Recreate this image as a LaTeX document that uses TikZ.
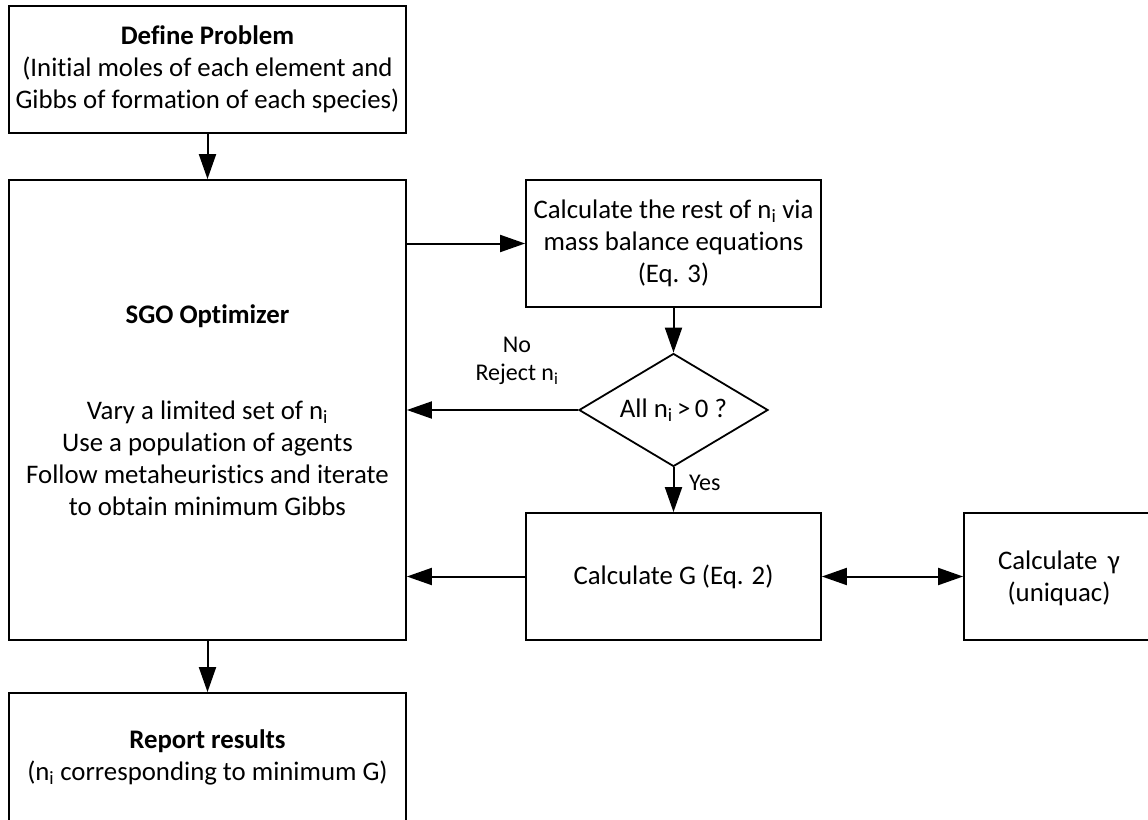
\documentclass[tikz,border=0pt]{standalone}
\usepackage{fontspec}
\setmainfont{Carlito}[Ligatures=NoCommon]
\usetikzlibrary{shapes.geometric,arrows.meta}
\tikzset{
  box/.style={draw, line width=1.8pt, inner sep=0pt, align=center, font=\fontsize{26.8}{32}\selectfont},
  lbl/.style={inner sep=0pt, align=center, font=\fontsize{24}{28}\selectfont},
  arr/.style={line width=2pt, -{Triangle[length=25pt,width=17pt]}},
  darr/.style={line width=2pt, {Triangle[length=25pt,width=17pt]}-{Triangle[length=25pt,width=17pt]}}
}
\begin{document}
\begin{tikzpicture}[x=1pt,y=-1pt]
\fill[white] (0,0) rectangle (1148,819);
\useasboundingbox (0,0) rectangle (1148,819);
\clip (0,0) rectangle (1148,819);
\node[box, minimum width=397pt, minimum height=127pt] (def) at (207.5,69.5)
  {\textbf{Define Problem}\\(Initial moles of each element and\\Gibbs of formation of each species)};
\node[box, minimum width=397pt, minimum height=460pt] (sgo) at (207.5,410)
  {\textbf{SGO Optimizer}\\[64pt]Vary a limited set of n\textsubscript{i}\\Use a population of agents\\Follow metaheuristics and iterate\\to obtain minimum Gibbs};
\node[box, minimum width=397pt, minimum height=129pt] (rep) at (207.5,757.5)
  {\textbf{Report results}\\(n\textsubscript{i} corresponding to minimum G)};
\node[box, minimum width=295pt, minimum height=127pt] (rest) at (673.5,243.5)
  {Calculate the rest of n\textsubscript{i} via\\mass balance equations\\(Eq. 3)};
\node[box, diamond, minimum width=189pt, minimum height=113pt, shape aspect=1.7] (dia) at (673.5,410)
  {All n\textsubscript{i}\,>\,0 ?};
\node[box, minimum width=295pt, minimum height=127pt] (G) at (673.5,576.5)
  {Calculate G (Eq. 2)};
\node[box, minimum width=204pt, minimum height=127pt] (gamb) at (1066,576.5) {};
\node[box, draw=none] (gam) at (1059,578) {Calculate \,γ\\(uniquac)};
\node[lbl] (no) at (517,361) {No\\Reject n\textsubscript{i}};
\node[lbl, anchor=west] (yes) at (689,483) {Yes};
\draw[arr] (def.south) -- (sgo.north);
\draw[arr] (sgo.south) -- (rep.north);
\draw[arr] (sgo.east |- rest.west) -- (rest.west);
\draw[arr] (rest.south) -- (dia.north);
\draw[arr] (dia.west) -- (dia.west -| sgo.east);
\draw[arr] (dia.south) -- (G.north);
\draw[arr] (G.west) -- (G.west -| sgo.east);
\draw[darr] (G.east) -- (gamb.west);
\end{tikzpicture}
\end{document}
